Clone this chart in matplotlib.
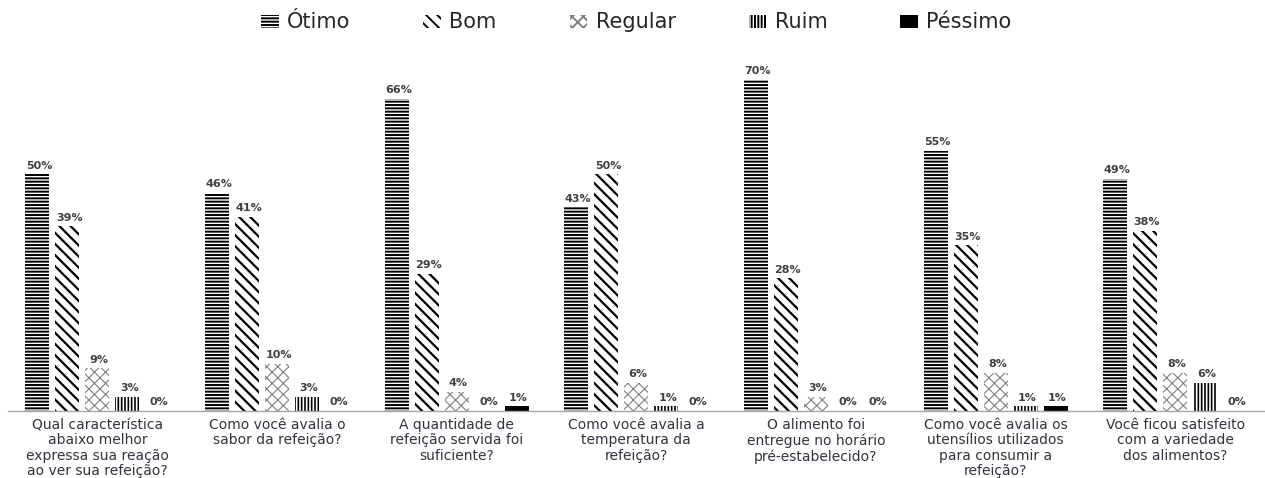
import numpy as np
import matplotlib as mpl
import matplotlib.pyplot as plt
from matplotlib.patches import Patch

plt.rcParams['font.family'] = ['DejaVu Sans']
plt.rcParams['hatch.linewidth'] = 1.4

# ── Dados ──
perguntas = [
    'Qual característica\nabaixo melhor\nexpressa sua reação\nao ver sua refeição?',
    'Como você avalia o\nsabor da refeição?',
    'A quantidade de\nrefeição servida foi\nsuficiente?',
    'Como você avalia a\ntemperatura da\nrefeição?',
    'O alimento foi\nentregue no horário\npré-estabelecido?',
    'Como você avalia os\nutensílios utilizados\npara consumir a\nrefeição?',
    'Você ficou satisfeito\ncom a variedade\ndos alimentos?',
]
categorias = ['Ótimo', 'Bom', 'Regular', 'Ruim', 'Péssimo']
otimo   = [50, 46, 66, 43, 70, 55, 49]
bom     = [39, 41, 29, 50, 28, 35, 38]
regular = [9, 10, 4, 6, 3, 8, 8]
ruim    = [3, 3, 0, 1, 0, 1, 6]
pessimo = [0, 0, 1, 0, 0, 1, 0]
series = [otimo, bom, regular, ruim, pessimo]

# ── Estilos (hachura, cor da hachura, preenchimento, espessura da hachura) ──
estilos = [
    ('-----', 'black', 'white', 1.4),
    ('\\\\\\', 'black', 'white', 1.6),
    ('xxx', '#808080', 'white', 0.8),
    ('|||||', 'black', 'white', 1.2),
    ('', 'black', 'black', 1.0),
]

fig = plt.figure(figsize=(12.65, 4.78), dpi=100, facecolor='white')
ax = fig.add_axes([0.006, 0.14, 0.994, 0.743])

x = np.arange(len(perguntas))
passo = 0.167
largura = 0.134
txt_col = '#404040'

handles = []
for i, (vals, (h, hc, fc, hlw)) in enumerate(zip(series, estilos)):
    pos = x + (i - 2) * passo
    with mpl.rc_context({'hatch.linewidth': hlw}):
        ax.bar(pos, vals, width=largura, facecolor=fc, edgecolor=hc,
               hatch=h, linewidth=0)
        handles.append(Patch(facecolor=fc, edgecolor=hc, hatch=h, linewidth=0))
    for px, v in zip(pos, vals):
        ax.text(px + 0.01, v + 0.8, f'{v}%', ha='center', va='bottom',
                fontsize=8, fontweight='bold', color=txt_col)

ax.set_xlim(-0.5, len(perguntas) - 0.5)
ax.set_ylim(0, 75)
ax.set_xticks(x)
ax.set_xticklabels(perguntas, fontsize=10, color='#333340', linespacing=1.12)
ax.tick_params(axis='x', length=0, pad=5)
ax.set_yticks([])
for s in ['top', 'right', 'left']:
    ax.spines[s].set_visible(False)
ax.spines['bottom'].set_color('#a6a6a6')
ax.spines['bottom'].set_linewidth(1.0)

fig.legend(handles, categorias, loc='center', bbox_to_anchor=(0.503, 0.953),
           ncol=5, frameon=False, fontsize=15, handlelength=0.85,
           handleheight=0.6, handletextpad=0.4, columnspacing=3.5,
           labelcolor='#262626')

plt.savefig('out.png', dpi=100, facecolor='white')
